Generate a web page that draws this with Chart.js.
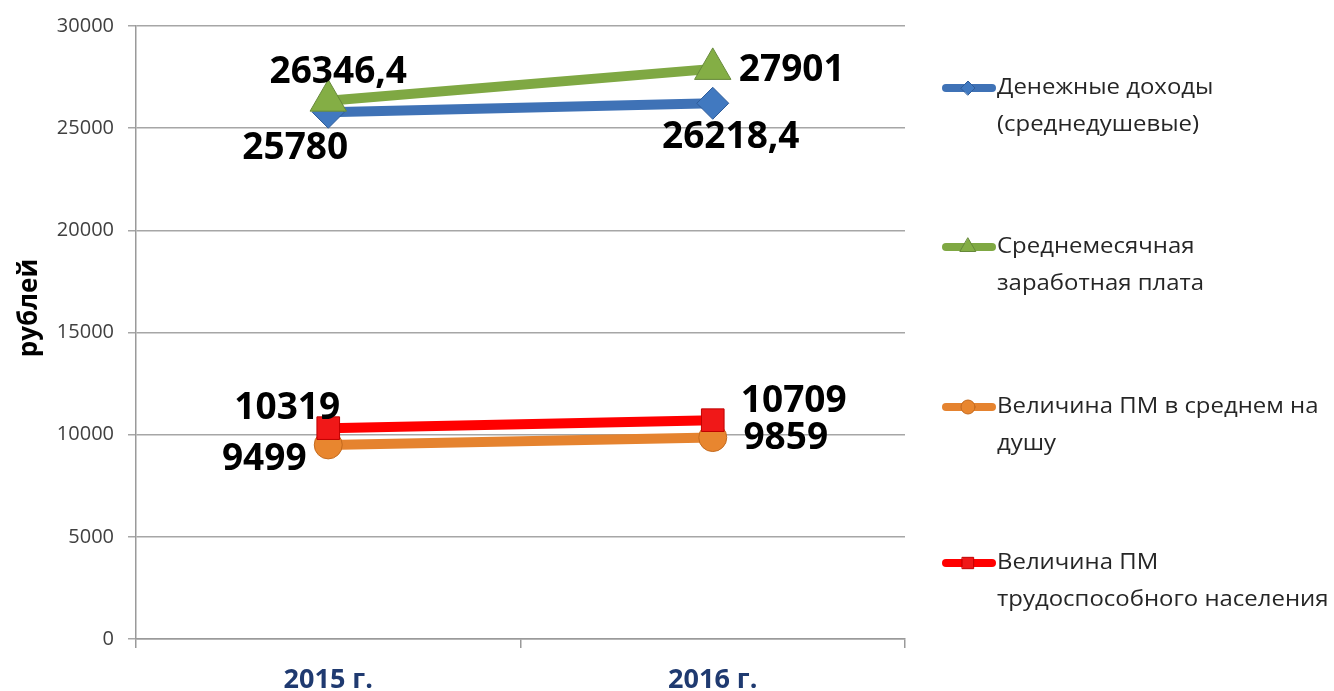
<!DOCTYPE html>
<html>
<head>
<meta charset="utf-8">
<script src="https://cdn.jsdelivr.net/npm/chart.js@4.4.1/dist/chart.umd.min.js"></script>
<style>
  html, body { margin: 0; padding: 0; background: #fff; }
</style>
</head>
<body>
<canvas id="chart" width="1334" height="691"></canvas>
<script>
// данные графика
const years = ["2015 г.", "2016 г."];
const incomeValues = [25780, 26218.4];   // денежные доходы
const salaryValues = [26346.4, 27901];   // среднемесячная зарплата
const pmAvgValues = [9499, 9859];        // ПМ в среднем на душу
const pmWorkValues = [10319, 10709];     // ПМ трудоспособного населения
const legendLines = [
  ["Денежные доходы", "(среднедушевые)"],
  ["Среднемесячная", "заработная плата"],
  ["Величина ПМ в среднем на", "душу"],
  ["Величина ПМ", "трудоспособного населения"],
];
const yAxisTitle = "рублей";

const fmt = (v) => String(v).replace(".", ",");

// подписи значений рядом с точками
const valueLabels = {
  id: "valueLabels",
  afterDatasetsDraw(chart) {
    const ctx = chart.ctx;
    ctx.save();
    ctx.font = "bold 37px 'Open Sans'";
    ctx.fillStyle = "#000";
    ctx.textAlign = "center";
    ctx.textBaseline = "middle";
    chart.data.datasets.forEach((ds, i) => {
      const meta = chart.getDatasetMeta(i);
      meta.data.forEach((pt, j) => {
        const off = ds.labelOffsets[j];
        ctx.fillText(fmt(ds.data[j]), pt.x + off[0], pt.y + off[1]);
      });
    });
    ctx.restore();
  },
};

// легенда справа и подпись оси
const sideLegend = {
  id: "sideLegend",
  afterDraw(chart) {
    const ctx = chart.ctx;
    const rows = [88, 247, 407, 563];
    ctx.save();
    chart.data.datasets.forEach((ds, i) => {
      const y = rows[i];
      ctx.strokeStyle = ds.borderColor;
      ctx.lineWidth = 8;
      ctx.lineCap = "round";
      ctx.beginPath();
      ctx.moveTo(946, y);
      ctx.lineTo(992, y);
      ctx.stroke();
      ctx.lineWidth = 1;
      ctx.fillStyle = ds.pointBackgroundColor;
      ctx.strokeStyle = ds.pointBorderColor;
      Chart.helpers.drawPoint(ctx, {
        pointStyle: ds.pointStyle,
        radius: ds.legendRadius,
        borderWidth: 1,
        rotation: 0,
      }, 968, y);

      // текст чуть растянут по ширине, как в оригинале
      ctx.save();
      ctx.translate(997, y);
      ctx.scale(1.14, 1);
      ctx.fillStyle = "#262626";
      ctx.font = "21px 'Open Sans'";
      ctx.textAlign = "left";
      ctx.textBaseline = "middle";
      ctx.fillText(legendLines[i][0], 0, 0);
      ctx.fillText(legendLines[i][1], 0, 37);
      ctx.restore();
    });

    ctx.translate(30, 308);
    ctx.rotate(-Math.PI / 2);
    ctx.font = "bold 26px 'Open Sans'";
    ctx.fillStyle = "#000";
    ctx.textAlign = "center";
    ctx.textBaseline = "middle";
    ctx.fillText(yAxisTitle, 0, 0);
    ctx.restore();
  },
};

new Chart(document.getElementById("chart"), {
  type: "line",
  data: {
    labels: years,
    datasets: [
      {
        data: incomeValues,
        borderColor: "#3F72B6",
        pointBackgroundColor: "#4179C0",
        pointBorderColor: "#2F5C99",
        pointStyle: "rectRot",
        pointRadius: 16,
        legendRadius: 7,
        order: 4,
        labelOffsets: [[-33, 36], [18, 34]],
      },
      {
        data: salaryValues,
        borderColor: "#7FA843",
        pointBackgroundColor: "#84AE45",
        pointBorderColor: "#66893A",
        pointStyle: "triangle",
        pointRadius: 21,
        legendRadius: 9,
        order: 3,
        labelOffsets: [[10, -28], [79, 2]],
      },
      {
        data: pmAvgValues,
        borderColor: "#E5832F",
        pointBackgroundColor: "#E8862F",
        pointBorderColor: "#C46A1E",
        pointStyle: "circle",
        pointRadius: 14,
        legendRadius: 7,
        order: 2,
        labelOffsets: [[-64, 15], [73, 1]],
      },
      {
        data: pmWorkValues,
        borderColor: "#FF0000",
        pointBackgroundColor: "#F01818",
        pointBorderColor: "#C00000",
        pointStyle: "rect",
        pointRadius: 16,
        legendRadius: 8,
        order: 1,
        labelOffsets: [[-41, -20], [81, -19]],
      },
    ],
  },
  options: {
    responsive: false,
    animation: false,
    devicePixelRatio: 1,
    layout: { padding: { left: 0, right: 429, top: 25, bottom: 0 } },
    elements: {
      line: { borderWidth: 10, tension: 0 },
      point: { borderWidth: 1, hoverRadius: 15 },
    },
    plugins: {
      legend: { display: false },
      tooltip: { enabled: false },
    },
    scales: {
      x: {
        offset: true,
        grid: {
          offset: true,
          drawOnChartArea: false,
          tickLength: 9,
          color: "#9a9a9a",
          lineWidth: 1.5,
        },
        border: { color: "#9a9a9a", width: 1.5 },
        ticks: {
          padding: 16,
          color: "#1F3A70",
          font: { family: "'Open Sans'", size: 27, weight: "bold" },
        },
        afterFit(scale) { scale.height = 52; },
      },
      y: {
        min: 0,
        max: 30000,
        ticks: {
          stepSize: 5000,
          padding: 14,
          color: "#404040",
          font: { family: "'Open Sans'", size: 20 },
          callback: (v) => String(v),
        },
        grid: { color: "#a6a6a6", lineWidth: 1.5, tickLength: 8 },
        border: { color: "#9a9a9a", width: 1.5 },
        afterFit(scale) { scale.width = 136; },
      },
    },
  },
  plugins: [valueLabels, sideLegend],
});
</script>
</body>
</html>
